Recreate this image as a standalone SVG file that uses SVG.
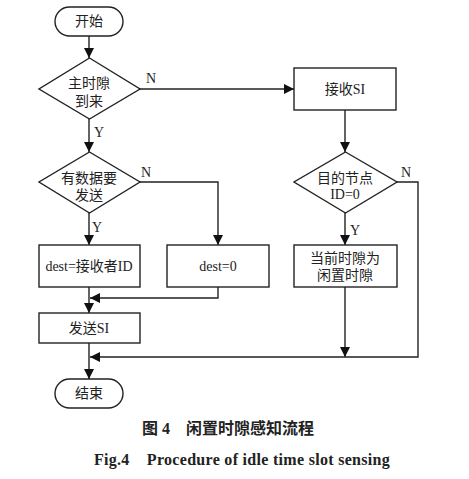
<svg xmlns="http://www.w3.org/2000/svg" width="469" height="479" viewBox="0 0 469 479">
<defs>
<style>
.s{fill:#fff;stroke:#222;stroke-width:1.4}
.l{fill:none;stroke:#222;stroke-width:1.4}
.t{font-family:"Liberation Serif","Noto Sans CJK SC",serif;font-size:14px;fill:#222;text-anchor:middle}
.c{font-family:"Liberation Serif","Noto Sans CJK SC",serif;font-size:16px;font-weight:bold;fill:#222;text-anchor:middle}
</style>
<marker id="a" viewBox="0 0 10 10" refX="10" refY="5" markerWidth="10" markerHeight="10" markerUnits="userSpaceOnUse" orient="auto">
<path d="M0,0 L10,5 L0,10 z" fill="#111"/>
</marker>
</defs>
<rect width="469" height="479" fill="#fff"/>
<g id="connectors">
<line class="l" x1="89" y1="36" x2="89" y2="58" marker-end="url(#a)"/>
<polyline class="l" points="140,89 294,89" marker-end="url(#a)"/>
<line class="l" x1="89" y1="119" x2="89" y2="152" marker-end="url(#a)"/>
<polyline class="l" points="140,182 218,182 218,245" marker-end="url(#a)"/>
<line class="l" x1="89" y1="213" x2="89" y2="245" marker-end="url(#a)"/>
<polyline class="l" points="218,287 218,298 90,298" marker-end="url(#a)"/>
<line class="l" x1="89" y1="287" x2="89" y2="313" marker-end="url(#a)"/>
<line class="l" x1="89" y1="343" x2="89" y2="379" marker-end="url(#a)"/>
<line class="l" x1="345" y1="110" x2="345" y2="152" marker-end="url(#a)"/>
<line class="l" x1="345" y1="213" x2="345" y2="245" marker-end="url(#a)"/>
<line class="l" x1="345" y1="287" x2="345" y2="357" marker-end="url(#a)"/>
<polyline class="l" points="397,182 418,182 418,357 90,357" marker-end="url(#a)"/>
<text class="t" x="151" y="83">N</text>
<text class="t" x="99" y="137">Y</text>
<text class="t" x="146" y="177">N</text>
<text class="t" x="97" y="232">Y</text>
<text class="t" x="406" y="177">N</text>
<text class="t" x="355" y="235">Y</text>
</g>
<g id="start">
<rect class="s" x="55" y="7" width="68" height="29" rx="14.5"/>
<text class="t" x="89" y="26">开始</text>
</g>
<g id="d1">
<polygon class="s" points="89.5,58 140,89 89.5,119 39,89"/>
<text class="t" x="89" y="88">主时隙</text>
<text class="t" x="89" y="106">到来</text>
</g>
<g id="recv">
<rect class="s" x="294" y="68" width="102" height="42"/>
<text class="t" x="345" y="94">接收SI</text>
</g>
<g id="d2">
<polygon class="s" points="89.5,152 140,182 89.5,213 39,182"/>
<text class="t" x="89" y="183">有数据要</text>
<text class="t" x="89" y="200">发送</text>
</g>
<g id="d3">
<polygon class="s" points="345.5,152 397,182 345.5,213 294,182"/>
<text class="t" x="345" y="183">目的节点</text>
<text class="t" x="345" y="199">ID=0</text>
</g>
<g id="b1">
<rect class="s" x="39" y="245" width="101" height="42"/>
<text class="t" x="89" y="271">dest=接收者ID</text>
</g>
<g id="b2">
<rect class="s" x="167" y="245" width="102" height="42"/>
<text class="t" x="218" y="271">dest=0</text>
</g>
<g id="b3">
<rect class="s" x="294" y="245" width="103" height="42"/>
<text class="t" x="345" y="263">当前时隙为</text>
<text class="t" x="345" y="280">闲置时隙</text>
</g>
<g id="send">
<rect class="s" x="39" y="313" width="101" height="30"/>
<text class="t" x="89" y="333">发送SI</text>
</g>
<g id="end">
<rect class="s" x="55" y="379" width="68" height="29" rx="14.5"/>
<text class="t" x="89" y="398">结束</text>
</g>
<text class="c" x="228" y="434" xml:space="preserve">图 4    闲置时隙感知流程</text>
<text class="c" x="242" y="465" xml:space="preserve" letter-spacing="0.3">Fig.4    Procedure of idle time slot sensing</text>
</svg>
